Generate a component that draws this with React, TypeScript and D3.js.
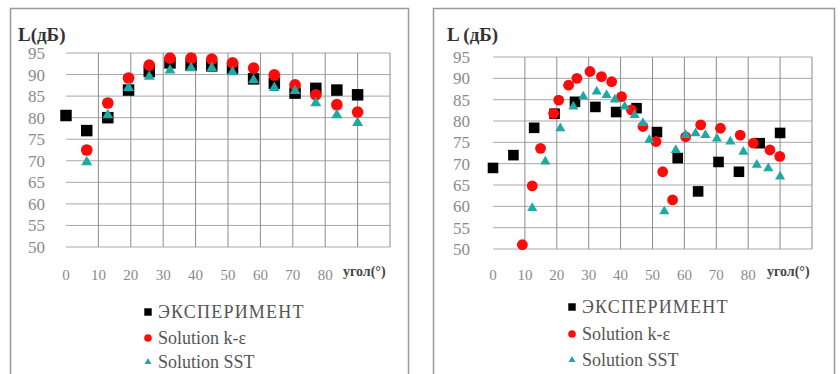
import React from 'react';
import * as d3 from 'd3';

// Axis ticks shared by both panels
const Y_TICKS = [95, 90, 85, 80, 75, 70, 65, 60, 55, 50];
const X_TICKS = [0, 10, 20, 30, 40, 50, 60, 70, 80];
const X_GRID = [10, 20, 30, 40, 50, 60, 70, 80, 90, 100];

const LEGEND_LABELS = ['ЭКСПЕРИМЕНТ', 'Solution k-ε', 'Solution SST'];

// Left panel: measured and computed levels, dB
const LEFT_EXP_ANGLES = [0, 6.4, 12.9, 19.3, 25.7, 32.1, 38.6, 45, 51.4, 57.9, 64.3, 70.7, 77.1, 83.6, 90];
const LEFT_EXP = [80.5, 77, 80, 86.4, 90.7, 92.7, 92.2, 92, 91.5, 89, 88, 85.7, 86.8, 86.4, 85.3];
const LEFT_SIM_ANGLES = [6.4, 12.9, 19.3, 25.7, 32.1, 38.6, 45, 51.4, 57.9, 64.3, 70.7, 77.1, 83.6, 90];
const LEFT_KE = [72.5, 83.4, 89.2, 92.2, 93.8, 93.8, 93.6, 92.7, 91.5, 89.9, 87.6, 85.3, 83, 81.3];
const LEFT_SST = [69.7, 80.6, 86.9, 89.5, 91, 91.5, 91.5, 90.6, 88.7, 86.9, 86.2, 83.4, 80.6, 78.8];

// Right panel
const RIGHT_EXP_ANGLES = [0, 6.4, 12.9, 19.3, 25.7, 32.1, 38.6, 45, 51.4, 57.9, 64.3, 70.7, 77.1, 83.6, 90];
const RIGHT_EXP = [69, 72, 78.4, 81.7, 84.5, 83.3, 82.1, 83, 77.4, 71.3, 63.5, 70.4, 68.1, 74.8, 77.2];
const RIGHT_KE_ANGLES = [9.2, 12.3, 14.9, 19, 20.6, 23.7, 26.3, 30.4, 34, 37.2, 40.3, 43.4, 47, 51.1, 53.2, 56.3, 60.4, 65.1, 71.3, 77.5, 81.6, 86.8, 89.9];
const RIGHT_KE = [51, 64.8, 73.6, 81.8, 84.9, 88.4, 90, 91.6, 90.4, 89.2, 85.7, 82.6, 78.7, 75.2, 68.1, 61.5, 76.3, 79.1, 78.3, 76.7, 74.8, 73.2, 71.7];
const RIGHT_SST_ANGLES = [12.3, 16.4, 21.1, 25.2, 28.3, 32.5, 35.6, 38.2, 41.3, 44.4, 47, 49, 53.7, 57.3, 60.4, 63.5, 66.6, 70.2, 74.4, 78.5, 82.7, 86.3, 90];
const RIGHT_SST = [59.6, 70.5, 78.3, 83.4, 85.7, 86.9, 86.1, 85, 83.4, 81.4, 79.5, 75.6, 58.8, 73.2, 76.7, 77.1, 76.7, 75.9, 75.2, 72.8, 69.7, 68.9, 67];

const COLORS = ['#000000', '#ff0a0a', '#1fa9a4'];
const FONT = '"Liberation Serif", "Times New Roman", "DejaVu Serif", serif';

type Series = { angles: number[]; values: number[] };

type PanelProps = {
  frame: { x: number; w: number };
  xRange: [number, number];
  yRange: [number, number];
  yTitle: string;
  yTitleX: number;
  yLabelX: number;
  xTitleX: number;
  legend: { x: number; rows: number[] };
  series: Series[];
  markerScale: number;
};

const markerPath = (k: number, s: number) => {
  const types = [d3.symbolSquare, d3.symbolCircle, d3.symbolTriangle];
  const sizes = [132, 108, 52];
  return d3.symbol(types[k], sizes[k] * s)() || '';
};

function Panel(p: PanelProps) {
  const x = d3.scaleLinear().domain([0, 100]).range(p.xRange);
  const y = d3.scaleLinear().domain([50, 95]).range(p.yRange);
  return (
    <g>
      <rect x={p.frame.x} y={8.5} width={p.frame.w} height={380} fill="#fff" stroke="#9a9a9a" strokeWidth={1.5} />
      <text x={p.yTitleX} y={41} fontFamily={FONT} fontSize={19} fontWeight="bold" fill="#333">{p.yTitle}</text>
      {Y_TICKS.map((t) => (
        <line key={'h' + t} x1={p.xRange[0]} x2={p.xRange[1]} y1={y(t)} y2={y(t)} stroke="#a8a8a8" strokeWidth={1} />
      ))}
      {X_GRID.map((t) => (
        <line key={'v' + t} x1={x(t)} x2={x(t)} y1={y(95)} y2={y(50)} stroke="#8c8c8c" strokeWidth={1} />
      ))}
      {Y_TICKS.map((t) => (
        <text key={'yl' + t} x={p.yLabelX} y={y(t) + 6} textAnchor="end" fontFamily={FONT} fontSize={17} fill="#8a8a8a">{t}</text>
      ))}
      {X_TICKS.map((t) => (
        <text key={'xl' + t} x={x(t)} y={280} textAnchor="middle" fontFamily={FONT} fontSize={15} fill="#8a8a8a">{t}</text>
      ))}
      <text x={p.xTitleX} y={276} fontFamily={FONT} fontSize={14} fontWeight="bold" fill="#444">угол(°)</text>
      {p.series.map((s, k) => (
        <g key={'s' + k} fill={COLORS[k]}>
          {s.values.map((v, i) => (
            <path key={i} d={markerPath(k, p.markerScale)} transform={`translate(${x(s.angles[i])},${y(v)})`} />
          ))}
        </g>
      ))}
      {LEGEND_LABELS.map((lbl, k) => (
        <g key={'lg' + k}>
          <path d={markerPath(k, 0.42)} fill={COLORS[k]} transform={`translate(${p.legend.x},${p.legend.rows[k]})`} />
          <text
            x={p.legend.x + 10}
            y={p.legend.rows[k] + 6}
            fontFamily={FONT}
            fontSize={18}
            letterSpacing={k === 0 ? 1.2 : 0}
            fill="#555"
          >
            {lbl}
          </text>
        </g>
      ))}
    </g>
  );
}

export default function App() {
  return (
    <svg width={840} height={374} style={{ position: 'fixed', left: 0, top: 0, background: '#fff' }}>
      <rect width={840} height={374} fill="#fff" />
      <Panel
        frame={{ x: 10.5, w: 398 }}
        xRange={[66, 390]}
        yRange={[247, 53]}
        yTitle="L(дБ)"
        yTitleX={18}
        yLabelX={45}
        xTitleX={343}
        legend={{ x: 148, rows: [312, 338, 362] }}
        series={[
          { angles: LEFT_EXP_ANGLES, values: LEFT_EXP },
          { angles: LEFT_SIM_ANGLES, values: LEFT_KE },
          { angles: LEFT_SIM_ANGLES, values: LEFT_SST },
        ]}
        markerScale={1}
      />
      <Panel
        frame={{ x: 433.5, w: 401 }}
        xRange={[493, 812]}
        yRange={[249, 57]}
        yTitle="L (дБ)"
        yTitleX={447}
        yLabelX={470}
        xTitleX={767}
        legend={{ x: 572, rows: [307, 334, 360] }}
        series={[
          { angles: RIGHT_EXP_ANGLES, values: RIGHT_EXP },
          { angles: RIGHT_KE_ANGLES, values: RIGHT_KE },
          { angles: RIGHT_SST_ANGLES, values: RIGHT_SST },
        ]}
        markerScale={0.85}
      />
    </svg>
  );
}
